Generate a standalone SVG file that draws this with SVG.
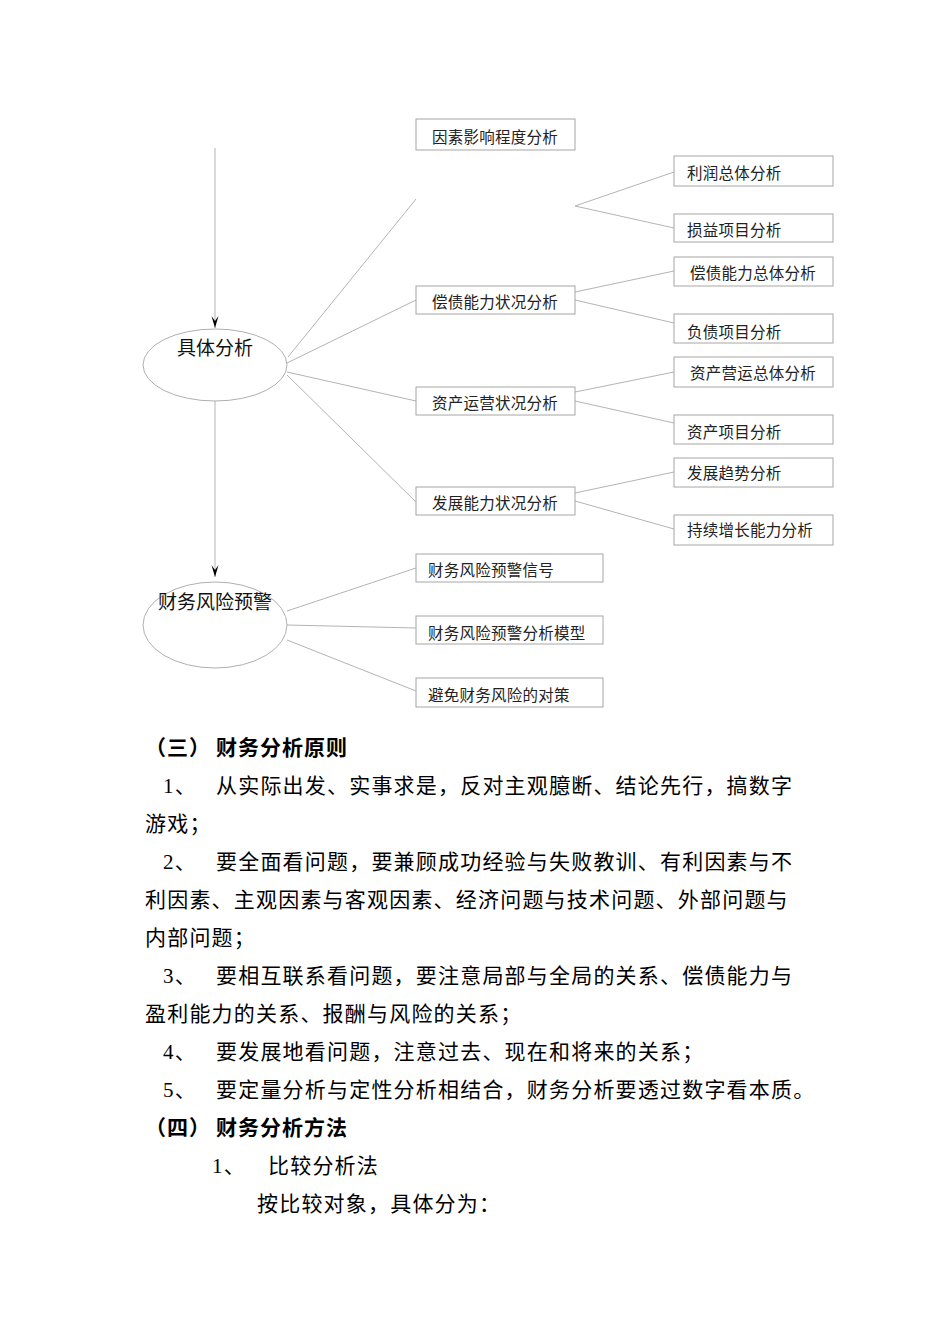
<svg xmlns="http://www.w3.org/2000/svg" width="950" height="1344" viewBox="0 0 950 1344">
<style>
.box{fill:#fff;stroke:#a6a6a6;stroke-width:1}
.ell{fill:#fff;stroke:#b0b0b0;stroke-width:1}
.con{stroke:#b4b4b4;stroke-width:1;fill:none}
.arr{stroke:#b4b4b4;stroke-width:1;fill:none}
.bt{font-family:"Noto Sans CJK SC","Noto Sans",sans-serif;font-size:15.5px;letter-spacing:0.25px;fill:#222}
.et{font-family:"Noto Sans CJK SC","Noto Sans",sans-serif;font-size:19px;fill:#111;text-anchor:middle}
.p{font-family:"Liberation Serif","Noto Sans CJK SC",serif;font-size:21px;letter-spacing:1.2px;fill:#000}
.h{font-family:"Noto Sans CJK SC",sans-serif;font-size:21px;font-weight:bold;letter-spacing:1px;fill:#000}
</style>
<defs>
<marker id="ah" viewBox="-13 -5 14 10" refX="0" refY="0" markerWidth="14" markerHeight="10" markerUnits="userSpaceOnUse" orient="auto">
<path d="M0,0 L-12,-3.5 L-7,0 L-12,3.5 Z" fill="#000"/>
</marker>
</defs>
<rect width="950" height="1344" fill="#fff"/>
<g id="connectors">
<line class="arr" x1="215" y1="148" x2="215" y2="328" marker-end="url(#ah)"/>
<line class="arr" x1="215" y1="401" x2="215" y2="577" marker-end="url(#ah)"/>
<line class="con" x1="288" y1="357" x2="416" y2="199"/>
<line class="con" x1="287" y1="363" x2="416" y2="300"/>
<line class="con" x1="287" y1="372" x2="416" y2="401"/>
<line class="con" x1="287" y1="375" x2="416" y2="502"/>
<line class="con" x1="575" y1="206" x2="674" y2="172"/>
<line class="con" x1="575" y1="206" x2="674" y2="228"/>
<line class="con" x1="575" y1="292" x2="674" y2="271"/>
<line class="con" x1="575" y1="300" x2="674" y2="323"/>
<line class="con" x1="575" y1="392" x2="674" y2="372"/>
<line class="con" x1="575" y1="401" x2="674" y2="423"/>
<line class="con" x1="575" y1="493" x2="674" y2="472"/>
<line class="con" x1="575" y1="501" x2="674" y2="529"/>
<line class="con" x1="287" y1="611" x2="416" y2="568"/>
<line class="con" x1="287" y1="625" x2="416" y2="628"/>
<line class="con" x1="287" y1="640" x2="416" y2="691"/>
</g>
<g id="node-juti">
<ellipse class="ell" cx="215" cy="365" rx="72" ry="36"/>
<text class="et" x="215" y="355">具体分析</text>
</g>
<g id="node-fengxian">
<ellipse class="ell" cx="215" cy="625" rx="72" ry="43"/>
<text class="et" x="215" y="609">财务风险预警</text>
</g>
<g id="node-yinsu"><rect class="box" x="416" y="119" width="159" height="31"/><text class="bt" x="432" y="142.5">因素影响程度分析</text></g>
<g id="node-changzhai"><rect class="box" x="416" y="286" width="159" height="28"/><text class="bt" x="432" y="307.5">偿债能力状况分析</text></g>
<g id="node-zichan"><rect class="box" x="416" y="387" width="159" height="28"/><text class="bt" x="432" y="408.5">资产运营状况分析</text></g>
<g id="node-fazhan"><rect class="box" x="416" y="487" width="159" height="28"/><text class="bt" x="432" y="508.5">发展能力状况分析</text></g>
<g id="node-lirun"><rect class="box" x="674" y="156" width="159" height="30"/><text class="bt" x="687" y="178.5">利润总体分析</text></g>
<g id="node-sunyi"><rect class="box" x="674" y="214" width="159" height="28"/><text class="bt" x="687" y="235.5">损益项目分析</text></g>
<g id="node-czzt"><rect class="box" x="674" y="257" width="159" height="29"/><text class="bt" x="690" y="278.5">偿债能力总体分析</text></g>
<g id="node-fuzhai"><rect class="box" x="674" y="314" width="159" height="29"/><text class="bt" x="687" y="337.5">负债项目分析</text></g>
<g id="node-zcyy"><rect class="box" x="674" y="357" width="159" height="30"/><text class="bt" x="690" y="378.5">资产营运总体分析</text></g>
<g id="node-zcxm"><rect class="box" x="674" y="415" width="159" height="29"/><text class="bt" x="687" y="437.5">资产项目分析</text></g>
<g id="node-fzqs"><rect class="box" x="674" y="458" width="159" height="29"/><text class="bt" x="687" y="478.5">发展趋势分析</text></g>
<g id="node-cxzz"><rect class="box" x="674" y="515" width="159" height="30"/><text class="bt" x="687" y="535.5">持续增长能力分析</text></g>
<g id="node-xinhao"><rect class="box" x="416" y="554" width="187" height="28"/><text class="bt" x="428" y="575.5">财务风险预警信号</text></g>
<g id="node-moxing"><rect class="box" x="416" y="616" width="187" height="28"/><text class="bt" x="428" y="638.5">财务风险预警分析模型</text></g>
<g id="node-duice"><rect class="box" x="416" y="678" width="187" height="29"/><text class="bt" x="428" y="700.5">避免财务风险的对策</text></g>
<g id="body-text">
<text class="h" x="145" y="755">（三）</text><text class="h" x="216" y="755">财务分析原则</text>
<text class="p" x="163" y="793">1、</text><text class="p" x="216" y="793">从实际出发、实事求是，反对主观臆断、结论先行，搞数字</text>
<text class="p" x="145" y="831">游戏；</text>
<text class="p" x="163" y="869">2、</text><text class="p" x="216" y="869">要全面看问题，要兼顾成功经验与失败教训、有利因素与不</text>
<text class="p" x="145" y="907">利因素、主观因素与客观因素、经济问题与技术问题、外部问题与</text>
<text class="p" x="145" y="945">内部问题；</text>
<text class="p" x="163" y="983">3、</text><text class="p" x="216" y="983">要相互联系看问题，要注意局部与全局的关系、偿债能力与</text>
<text class="p" x="145" y="1021">盈利能力的关系、报酬与风险的关系；</text>
<text class="p" x="163" y="1059">4、</text><text class="p" x="216" y="1059">要发展地看问题，注意过去、现在和将来的关系；</text>
<text class="p" x="163" y="1097">5、</text><text class="p" x="216" y="1097">要定量分析与定性分析相结合，财务分析要透过数字看本质。</text>
<text class="h" x="145" y="1135">（四）</text><text class="h" x="216" y="1135">财务分析方法</text>
<text class="p" x="212" y="1173">1、</text><text class="p" x="268" y="1173">比较分析法</text>
<text class="p" x="257" y="1211">按比较对象，具体分为：</text>
</g>
</svg>
